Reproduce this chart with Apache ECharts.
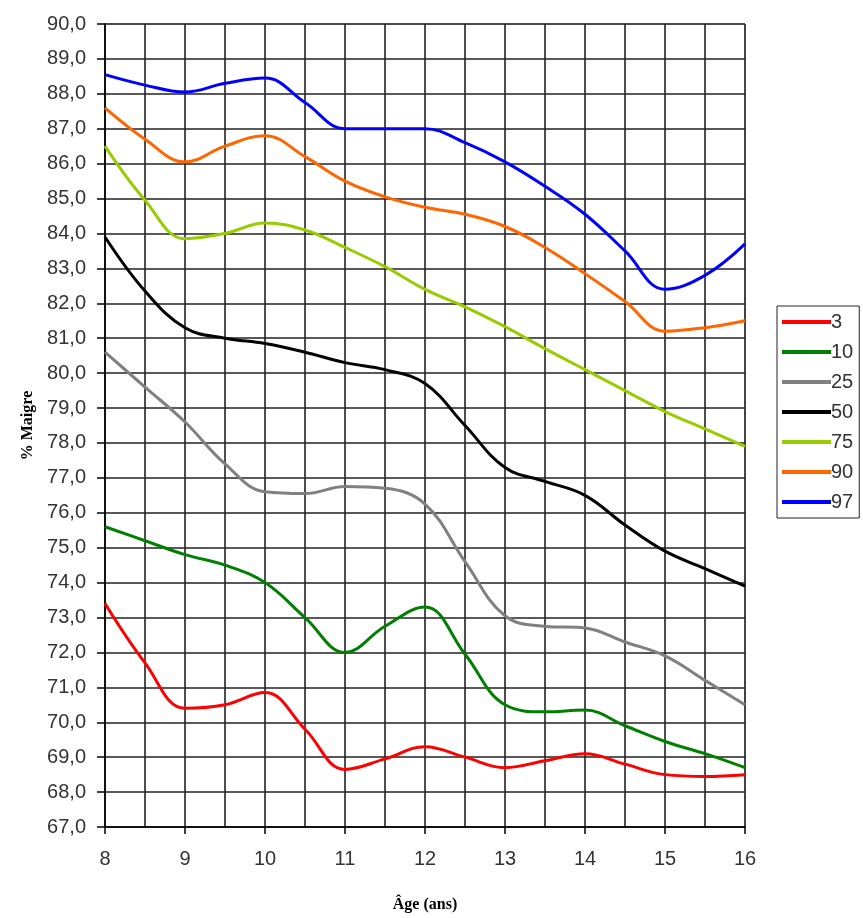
<!DOCTYPE html>
<html>
<head>
<meta charset="utf-8">
<script src="https://cdn.jsdelivr.net/npm/echarts@6/dist/echarts.min.js"></script>
<style>html,body{margin:0;padding:0;background:#fff}#c{width:863px;height:918px}</style>
</head>
<body>
<div id="c"></div>
<script>
const ages = [8, 8.5, 9, 9.5, 10, 10.5, 11, 11.5, 12, 12.5, 13, 13.5, 14, 14.5, 15, 15.5, 16];
const seriesNames = ['3', '10', '25', '50', '75', '90', '97'];
const p3  = [73.4, 71.7, 70.4, 70.5, 70.85, 69.8, 68.65, 68.95, 69.3, 69.0, 68.7, 68.9, 69.1, 68.8, 68.5, 68.45, 68.5];
const p10 = [75.6, 75.2, 74.8, 74.5, 74.0, 73.0, 72.0, 72.75, 73.3, 71.95, 70.5, 70.3, 70.35, 69.9, 69.45, 69.1, 68.7];
const p25 = [80.6, 79.6, 78.6, 77.4, 76.6, 76.55, 76.75, 76.7, 76.25, 74.6, 73.05, 72.75, 72.7, 72.3, 71.9, 71.2, 70.5];
const p50 = [83.9, 82.35, 81.3, 81.0, 80.85, 80.6, 80.3, 80.1, 79.7, 78.5, 77.3, 76.9, 76.5, 75.65, 74.9, 74.4, 73.9];
const p75 = [86.5, 84.95, 83.85, 84.0, 84.3, 84.1, 83.6, 83.05, 82.4, 81.9, 81.33, 80.7, 80.1, 79.5, 78.9, 78.4, 77.9];
const p90 = [87.6, 86.7, 86.05, 86.5, 86.8, 86.2, 85.5, 85.05, 84.75, 84.55, 84.2, 83.6, 82.85, 82.05, 81.2, 81.3, 81.5];
const p97 = [88.55, 88.25, 88.05, 88.3, 88.45, 87.75, 87.0, 87.0, 87.0, 86.6, 86.05, 85.35, 84.55, 83.5, 82.4, 82.8, 83.7];
const colors = ['#ff0000', '#008000', '#808080', '#000000', '#99cc00', '#ff6600', '#0000ff'];
const allValues = [p3, p10, p25, p50, p75, p90, p97];

const chart = echarts.init(document.getElementById('c'));
const labelFont = {fontFamily: 'Liberation Sans, Arial, sans-serif', fontSize: 20, color: '#333'};
const gridLine = {lineStyle: {color: '#222', width: 1.6}};

chart.setOption({
  animation: false,
  backgroundColor: '#fff',
  grid: {left: 105, right: 118, top: 24, bottom: 82, show: true, borderColor: '#999', borderWidth: 1},
  legend: {
    orient: 'vertical', left: 777, top: 306,
    itemWidth: 49, itemHeight: 4, itemGap: 10, icon: 'rect',
    padding: [6, 6, 6, 5],
    borderColor: '#222', borderWidth: 1,
    textStyle: {fontFamily: 'Liberation Sans, Arial, sans-serif', fontSize: 20, color: '#333', padding: [0, 0, 0, -5]},
    data: seriesNames
  },
  xAxis: {
    type: 'value', min: 8, max: 16, interval: 1,
    name: 'Âge (ans)', nameLocation: 'middle', nameGap: 70,
    nameTextStyle: {fontFamily: 'Liberation Serif, Times New Roman, serif', fontWeight: 'bold', fontSize: 16, color: '#000'},
    axisLine: {lineStyle: {color: '#000', width: 1.5}},
    axisTick: {show: true, inside: false, length: 7, lineStyle: {color: '#000', width: 1.5}},
    axisLabel: Object.assign({margin: 22}, labelFont),
    splitLine: {show: true, lineStyle: {color: '#222', width: 1.6}},
    minorTick: {show: false, splitNumber: 2},
    minorSplitLine: {show: true, lineStyle: {color: '#222', width: 1.6}}
  },
  yAxis: {
    type: 'value', min: 67, max: 90, interval: 1,
    name: '% Maigre', nameLocation: 'middle', nameGap: 68,
    nameTextStyle: {fontFamily: 'Liberation Serif, Times New Roman, serif', fontWeight: 'bold', fontSize: 16, color: '#000'},
    axisLine: {show: true, lineStyle: {color: '#000', width: 1.5}},
    axisTick: {show: true, inside: false, length: 8, lineStyle: {color: '#000', width: 1.5}},
    axisLabel: Object.assign({margin: 19, formatter: v => v.toFixed(1).replace('.', ',')}, labelFont),
    splitLine: gridLine
  },
  series: seriesNames.map((n, i) => ({
    name: n, type: 'line', smooth: 0.4, showSymbol: false, symbol: 'none',
    data: ages.map((a, j) => [a, allValues[i][j]]),
    lineStyle: {color: colors[i], width: 3},
    itemStyle: {color: colors[i]}
  }))
});
</script>
</body>
</html>
